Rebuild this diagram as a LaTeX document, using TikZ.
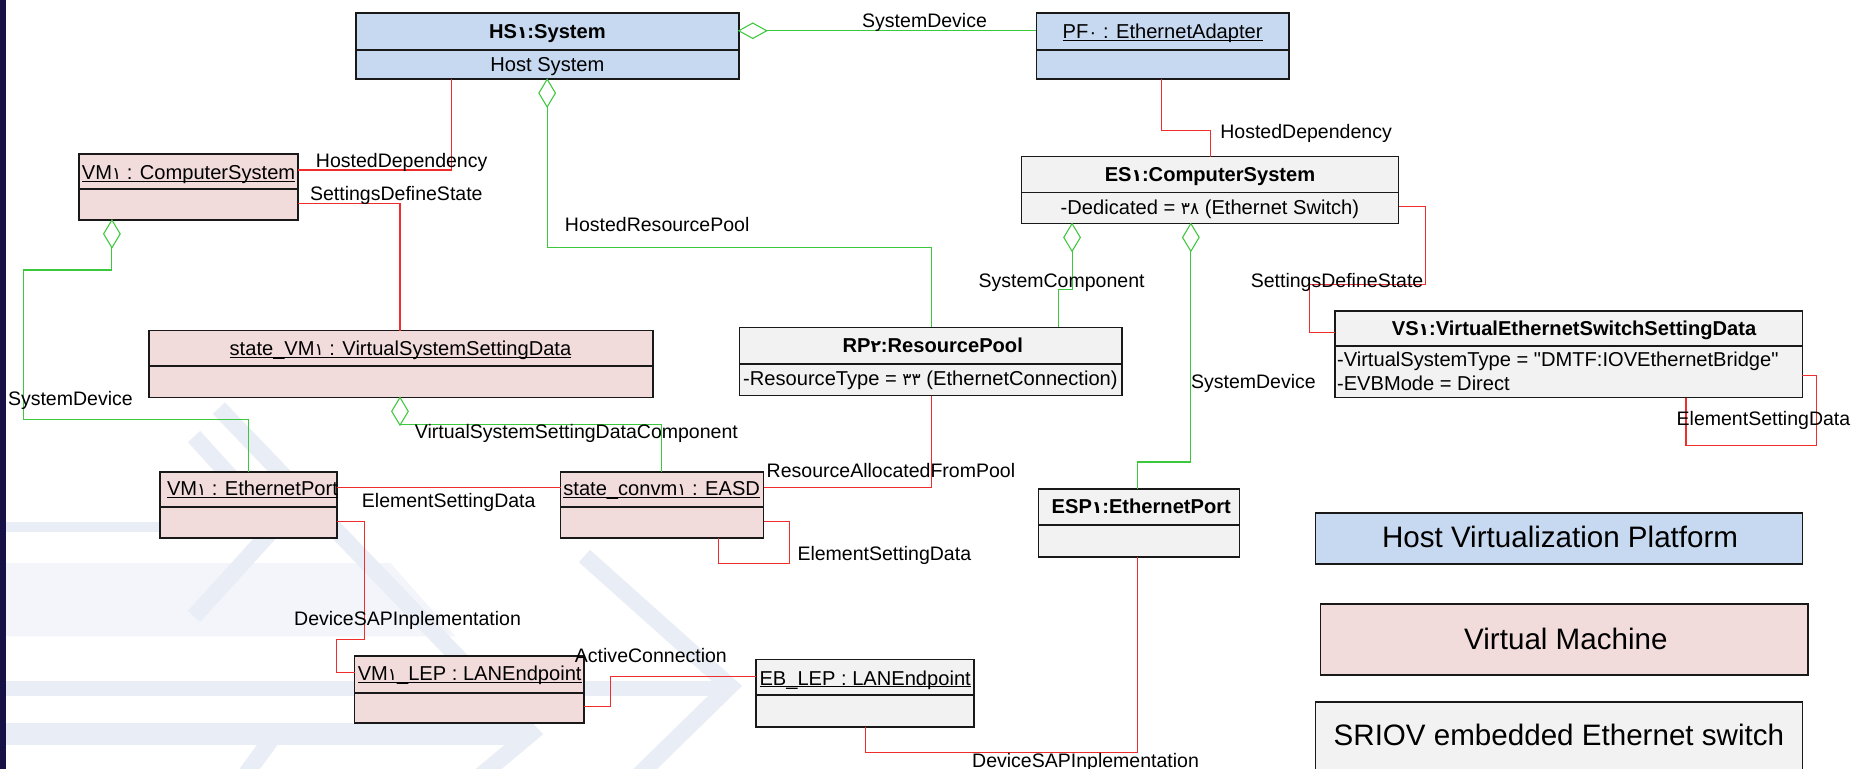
\documentclass[tikz,border=0pt]{standalone}
\usepackage{fontspec}
\setmainfont{Liberation Sans}
\newfontfamily\arabdigits[Scale=0.85]{DejaVu Sans}
\newcommand{\ad}[1]{{\arabdigits #1}}
\newcommand{\ulne}[1]{\setbox0\hbox{#1}\rlap{\rule[-2pt]{\wd0}{0.9pt}}\box0}
\definecolor{hostblue}{RGB}{198,217,240}
\definecolor{vmpink}{RGB}{242,220,219}
\definecolor{swgrey}{RGB}{242,242,242}
\definecolor{lnred}{RGB}{240,45,45}
\definecolor{lngreen}{RGB}{60,200,60}
\definecolor{navystrip}{RGB}{22,18,70}
\definecolor{wmark}{RGB}{233,237,245}
\definecolor{wmarklight}{RGB}{243,245,250}
\tikzset{
  objbox/.style={draw=black!90, line width=1.4pt, inner sep=0pt, outer sep=0pt},
  objline/.style={draw=black!90, line width=1.4pt},
  redc/.style={draw=lnred, line width=0.9pt},
  greenc/.style={draw=lngreen, line width=0.9pt},
  lbl/.style={font=\fontsize{16.5}{19}\selectfont, inner sep=0pt, text height=12pt, text depth=0pt},
  ttl/.style={font=\fontsize{17}{20}\selectfont\bfseries, inner sep=0pt, text height=12.4pt, text depth=0pt},
  txt/.style={font=\fontsize{17}{20}\selectfont, inner sep=0pt, text height=12.4pt, text depth=0pt},
  legtxt/.style={font=\fontsize{25}{29}\selectfont, inner sep=0pt, text height=18pt, text depth=0pt},
  wmband/.style={draw=wmark, line width=14pt, line join=miter},
}
\newcommand{\umlobj}[7]{%
  \node[objbox,fill=#7,minimum width={(#4)-(#2)},minimum height={(#5)-(#3)}] (#1) at ({((#2)+(#4))/2},{((#3)+(#5))/2}) {};
  \draw[objline] (#1.west |- 0,#6) -- (#1.east |- 0,#6);}
\newcommand{\vdiam}[1]{\draw[greenc,fill=white] (#1) -- ++(7,11.7) -- ++(-7,11.7) -- ++(-7,-11.7) -- cycle;}
\begin{document}
\begin{tikzpicture}[x=1pt,y=-1pt]
\useasboundingbox (0,0) rectangle (1568,650);
\clip (0,0) rectangle (1568,650);
\fill[white] (0,0) rectangle (1568,650);
% watermark
\fill[wmarklight] (0,476) -- (330,476) -- (385,538) -- (0,538) -- cycle;
\fill[wmark] (0,441) rectangle (240,450);
\fill[wmark] (0,576) rectangle (612,588);
\fill[wmark] (0,611) rectangle (444,630);
\draw[wmband] (185,345) -- (449,620) -- (395,665);
\draw[wmband] (494,470) -- (617,580) -- (530,665);
\draw[wmband] (164,369) -- (233,445) -- (164,521);
\draw[wmband] (233,620) -- (200,665);
\fill[navystrip] (0,0) rectangle (5,650);
% boxes
\umlobj{hs}{301}{11}{624.5}{67}{42.3}{hostblue}
\umlobj{pf}{876}{11}{1089.5}{67}{42.3}{hostblue}
\umlobj{vmcs}{67}{130}{251.7}{186}{159.5}{vmpink}
\umlobj{es}{863.5}{132.4}{1182.2}{189}{162.6}{swgrey}
\umlobj{vs}{1128.3}{263}{1523.6}{336}{292.2}{swgrey}
\umlobj{svm}{126.2}{279.5}{552.1}{336}{309.4}{vmpink}
\umlobj{rp}{625}{276.7}{948.2}{334.4}{307.7}{swgrey}
\umlobj{vmep}{135.4}{398.7}{284.7}{454.5}{428.3}{vmpink}
\umlobj{sconv}{473.9}{398.7}{645.5}{454.5}{428.3}{vmpink}
\umlobj{esp}{877.7}{413.6}{1047.8}{470.6}{443.8}{swgrey}
\umlobj{vmlep}{299.7}{554.3}{493.8}{611}{585.6}{vmpink}
\umlobj{eblep}{638.8}{557.4}{823.2}{614.3}{587.6}{swgrey}
% connectors (green)
\draw[greenc] (hs.east |- 0,26) -- (pf.west |- 0,26);
\draw[greenc] (hs.south -| 462.5,0) -- (462.5,209.4) -- (787.1,209.4) -- (rp.north -| 787.1,0);
\draw[greenc] (vmcs.south -| 94.6,0) -- (94.6,228.2) -- (19.8,228.2) -- (19.8,354.5) -- (210.3,354.5) -- (vmep.north -| 210.3,0);
\draw[greenc] (svm.south -| 338.1,0) -- (338.1,358.5) -- (559.3,358.5) -- (sconv.north -| 559.3,0);
\draw[greenc] (es.south -| 906.2,0) -- (906.2,245.1) -- (894.8,245.1) -- (rp.north -| 894.8,0);
\draw[greenc] (es.south -| 1006.6,0) -- (1006.6,390.5) -- (961.5,390.5) -- (esp.north -| 961.5,0);
% connectors (red)
\draw[redc] (hs.south -| 381.7,0) |- (vmcs.east |- 0,143.7);
\draw[redc] (vmcs.east |- 0,171.9) -| (svm.north -| 338.1,0);
\draw[redc] (pf.south -| 982,0) |- (1023.5,110.7) -- (es.north -| 1023.5,0);
\draw[redc] (es.east |- 0,174.7) -- (1205,174.7) -- (1205,240.4) -- (1107.1,240.4) -- (1107.1,281.2) -- (vs.west |- 0,281.2);
\draw[redc] (vs.east |- 0,317.6) -- (1535.6,317.6) -- (1535.6,376.2) -- (1425.1,376.2) -- (vs.south -| 1425.1,0);
\draw[redc] (vmep.east |- 0,412.3) -- (sconv.west |- 0,412.3);
\draw[redc] (rp.south -| 787.1,0) |- (sconv.east |- 0,412.3);
\draw[redc] (sconv.east |- 0,441) -- (667.4,441) -- (667.4,476.2) -- (607.6,476.2) -- (sconv.south -| 607.6,0);
\draw[redc] (vmep.east |- 0,441) -- (308.4,441) -- (308.4,540.5) -- (284.1,540.5) -- (284.1,568.7) -- (vmlep.west |- 0,568.7);
\draw[redc] (vmlep.east |- 0,596.9) -- (515.9,596.9) -- (515.9,572) -- (eblep.west |- 0,572);
\draw[redc] (eblep.south -| 731.6,0) |- (961.6,636) -- (esp.south -| 961.6,0);
% diamonds
\draw[greenc,fill=white] (hs.east |- 0,26) -- ++(11.8,-6.5) -- ++(11.8,6.5) -- ++(-11.8,6.5) -- cycle;
\vdiam{hs.south -| 462.5,0}
\vdiam{vmcs.south -| 94.6,0}
\vdiam{svm.south -| 338.1,0}
\vdiam{es.south -| 906.2,0}
\vdiam{es.south -| 1006.6,0}
% box texts
\node[ttl] (hs-t) at (462.7,26.5) {HS\ad{١}:System};
\node[txt] (hs-a) at (462.7,54.5) {Host System};
\node[txt] (pf-t) at (982.7,26.5) {\ulne{PF\ad{٠} : EthernetAdapter}};
\node[txt] (vmcs-t) at (159.4,145.5) {\ulne{VM\ad{١} : ComputerSystem}};
\node[ttl] (es-t) at (1022.8,147.5) {ES\ad{١}:ComputerSystem};
\node[txt] (es-a) at (1022.7,175.5) {-Dedicated = \ad{٣٨} (Ethernet Switch)};
\node[ttl] (vs-t) at (1330.5,277.6) {VS\ad{١}:VirtualEthernetSwitchSettingData};
\node[txt,anchor=west] (vs-a1) at (1130,303.8) {-VirtualSystemType = \textquotedbl DMTF:IOVEthernetBridge\textquotedbl};
\node[txt,anchor=west] (vs-a2) at (1130,323.5) {-EVBMode = Direct};
\node[txt] (svm-t) at (338.5,294.7) {\ulne{state\_VM\ad{١} : VirtualSystemSettingData}};
\node[ttl] (rp-t) at (788.4,291.5) {RP\ad{٢}:ResourcePool};
\node[txt,anchor=west] (rp-a) at (628,319.8) {-ResourceType = \ad{٣٣} (EthernetConnection)};
\node[txt] (vmep-t) at (213.4,413) {\ulne{VM\ad{١} : EthernetPort}};
\node[txt] (sconv-t) at (559.3,413) {\ulne{state\_convm\ad{١} : EASD}};
\node[ttl] (esp-t) at (964.7,427.5) {ESP\ad{١}:EthernetPort};
\node[txt] (vmlep-t) at (397,569.2) {\ulne{VM\ad{١}\_LEP : LANEndpoint}};
\node[txt] (eblep-t) at (731.3,572.9) {\ulne{EB\_LEP : LANEndpoint}};
% legend
\node[objbox,fill=hostblue,minimum width=411.6,minimum height=42.9] (leg1) at (1317.8,455.35) {};
\node[objbox,fill=vmpink,minimum width=412.3,minimum height=60] (leg2) at (1322.35,540.6) {};
\node[objbox,fill=swgrey,minimum width=411.6,minimum height=90] (leg3) at (1317.8,638.2) {};
\node[legtxt] (leg1-t) at (1318.7,454.2) {Host Virtualization Platform};
\node[legtxt] (leg2-t) at (1323.6,540.2) {Virtual Machine};
\node[legtxt] (leg3-t) at (1317.7,621.3) {SRIOV embedded Ethernet switch};
% connector labels
\node[lbl] (l1) at (781.5,17) {SystemDevice};
\node[lbl] (l2) at (555.5,190) {HostedResourcePool};
\node[lbl] (l3) at (339.5,136) {HostedDependency};
\node[lbl] (l4) at (335,163.4) {SettingsDefineState};
\node[lbl] (l5) at (1104,110.7) {HostedDependency};
\node[lbl] (l6) at (897.3,237.2) {SystemComponent};
\node[lbl] (l7) at (1130.2,236.7) {SettingsDefineState};
\node[lbl] (l8) at (59.5,336.7) {SystemDevice};
\node[lbl] (l9) at (1059.5,322) {SystemDevice};
\node[lbl] (l10) at (1490.6,353.7) {ElementSettingData};
\node[lbl] (l11) at (487.2,364.9) {VirtualSystemSettingDataComponent};
\node[lbl] (l12) at (753.1,397.3) {ResourceAllocatedFromPool};
\node[lbl] (l13) at (379.3,422.6) {ElementSettingData};
\node[lbl] (l14) at (747.5,467.8) {ElementSettingData};
\node[lbl] (l15) at (344.5,522.7) {DeviceSAPInplementation};
\node[lbl] (l16) at (550.2,553.7) {ActiveConnection};
\node[lbl] (l17) at (917.6,642.5) {DeviceSAPInplementation};
\end{tikzpicture}
\end{document}
